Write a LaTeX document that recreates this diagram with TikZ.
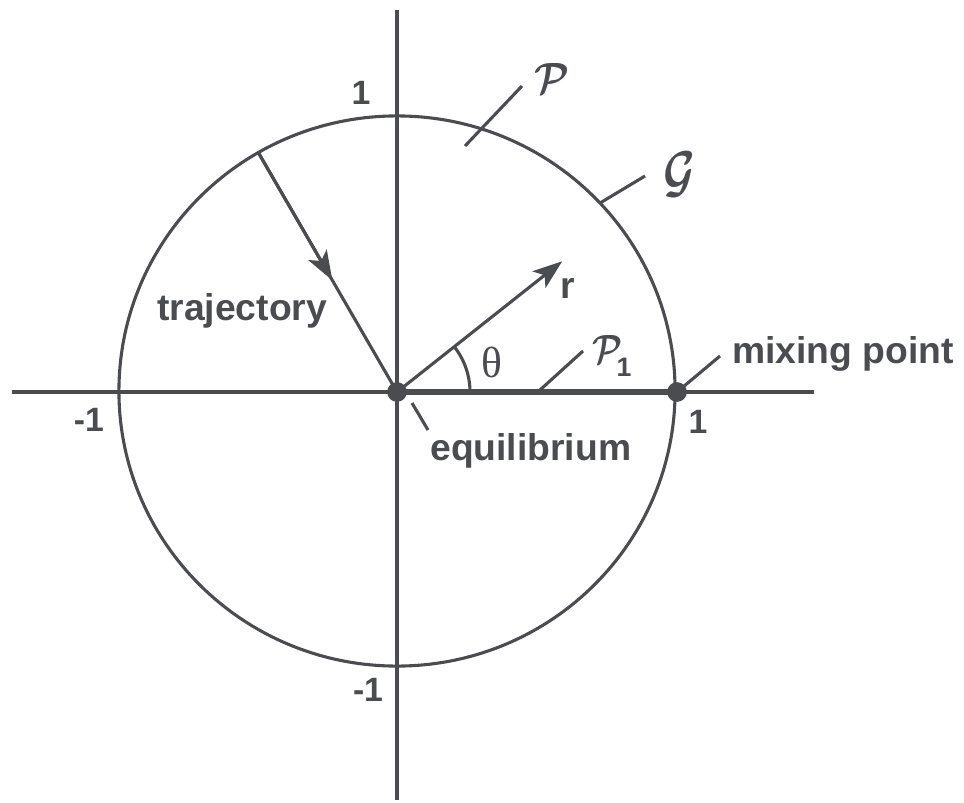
\documentclass[tikz,border=0pt]{standalone}
\usepackage{graphicx}
\usepackage{fontspec}
\setmainfont{Liberation Sans}
\newfontfamily\serifgr{Liberation Serif}
\usetikzlibrary{arrows.meta,calc}
\definecolor{ink}{RGB}{74,76,80}
\begin{document}
\begin{tikzpicture}[x=0.025cm,y=-0.025cm,
  thinline/.style={draw=ink,line width=2.2pt},
  thickline/.style={draw=ink,line width=4.2pt},
  tip/.style={-{Stealth[length=21pt,width=15pt,inset=5pt]}},
  lbl/.style={text=ink,inner sep=0pt,font=\fontsize{26.5}{30}\selectfont\bfseries},
  num/.style={text=ink,inner sep=0pt,font=\fontsize{24}{28}\selectfont\bfseries},
  cal/.style={text=ink,inner sep=0pt},
  dot/.style={circle,fill=ink,inner sep=0pt,minimum size=14pt}]
\useasboundingbox (0,0) rectangle (964,802);
% coordinates
\coordinate (O) at (397,392);
\coordinate (M) at (677,392);
\coordinate (XL) at (12,392);
\coordinate (XR) at (814,392);
\coordinate (YT) at (397,10);
\coordinate (YB) at (397,800);
\coordinate (A) at (258,152);
\coordinate (R) at (560,263);
% axes and circle
\draw[thinline] (XL) -- (XR);
\draw[thinline] (YT) -- (YB);
\draw[thinline] (397,391) ellipse [x radius=6.95cm, y radius=6.875cm];
\draw[thickline] (O) -- (M);
% trajectory
\draw[thinline] (A) -- (O);
\draw[thinline,tip] (A) -- ($(A)!0.535!(O)$);
% r vector
\draw[thinline,tip,shorten >=-2pt] (O) -- (R);
% angle arc
\draw[thinline] ($(O)+(73,0)$) arc [start angle=0, end angle=38.4, radius=1.825cm];
% ticks
\coordinate (P0) at (465,146); \coordinate (P1e) at (522,86);
\coordinate (G0) at (600,203); \coordinate (G1) at (645,176);
\coordinate (Q0) at (540,390); \coordinate (Q1) at (583,351);
\coordinate (Mx) at (720,356);
\coordinate (E0) at (412,403); \coordinate (E1) at (428,430);
\draw[thinline] (P0) -- (P1e);
\draw[thinline] (G0) -- (G1);
\draw[thinline] (Q0) -- (Q1);
\draw[thinline] (M) -- (Mx);
\draw[thinline] (E0) -- (E1);
% dots
\node[dot] (dO) at (O) {};
\node[dot] (dM) at (M) {};
% labels
\node[num] (n1t) at (361,93) {1};
\node[num] (n1r) at (698,422) {1};
\node[num] (nm1l) at (89,420) {-1};
\node[num] (nm1b) at (368,690) {-1};
\node[lbl,anchor=base west] (traj) at (157,320) {trajectory};
\node[lbl,anchor=base west] (equi) at (430,460) {equilibrium};
\node[lbl,anchor=base west] (mix) at (732,363) {mixing point};
\node[lbl,anchor=base west] (rl) at (560,298) {r};
\node[text=ink,inner sep=0pt,font=\fontsize{31}{34}\selectfont\serifgr] (th) at (492,362) {θ};
\node[cal] (Pl) at (552,78) {\resizebox*{0.875cm}{0.75cm}{\boldmath$\mathcal{P}$}};
\node[cal] (Gl) at (679,175) {\resizebox*{0.8cm}{1.125cm}{\boldmath$\mathcal{G}$}};
\node[cal] (P1l) at (607,349) {\resizebox*{0.75cm}{0.7cm}{\boldmath$\mathcal{P}$}};
\node[text=ink,inner sep=0pt,font=\fontsize{19}{22}\selectfont\bfseries] (P1s) at (624,367) {1};
\end{tikzpicture}
\end{document}
